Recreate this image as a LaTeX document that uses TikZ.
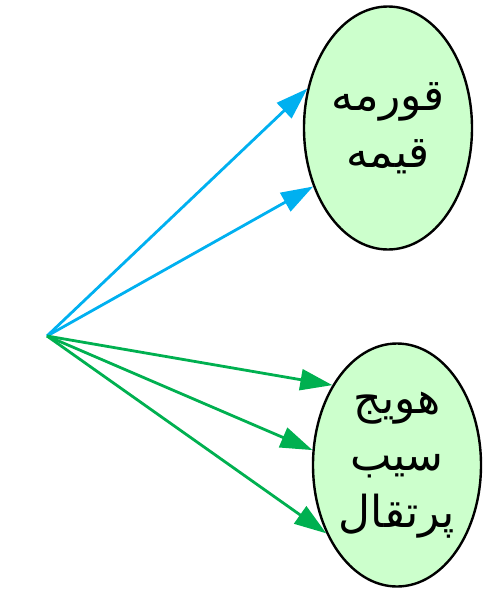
\documentclass[tikz,border=0pt]{standalone}
\usepackage{fontspec}
\newfontfamily\arabicfont[Script=Arabic]{DejaVu Sans}
\TeXXeTstate=1
\usetikzlibrary{shapes.geometric,arrows.meta}
\definecolor{dishfill}{HTML}{CCFFCC}
\definecolor{meatblue}{HTML}{00B0F0}
\definecolor{fruitgreen}{HTML}{00B050}
\tikzset{
  dish/.style={ellipse, draw=black, line width=2.4pt, fill=dishfill,
    minimum width=168pt, minimum height=243pt, inner sep=0pt, align=center,
    font=\arabicfont\fontsize{44}{57}\selectfont},
  link/.style={line width=2.8pt, -{Triangle[length=32pt,width=21pt]}}
}
\begin{document}
\begin{tikzpicture}[x=1pt, y=-1pt]
    \useasboundingbox (0,0) rectangle (489,595);
    \coordinate (src) at (47,336);
    \node [dish] (meat) at (388,128) {\beginR قورمه\endR\\\beginR قیمه\endR};
    \node [dish] (veg) at (397,465) {\beginR هویج\endR\\\beginR سیب\endR\\\beginR پرتقال\endR};
    \draw[link, meatblue] (src) -- (meat.154);
    \draw[link, meatblue] (src) -- (meat.218);
    \draw[link, fruitgreen] (src) -- (veg.129);
    \draw[link, fruitgreen] (src) -- (veg.170);
    \draw[link, fruitgreen] (src) -- (veg.224);
\end{tikzpicture}
\end{document}
